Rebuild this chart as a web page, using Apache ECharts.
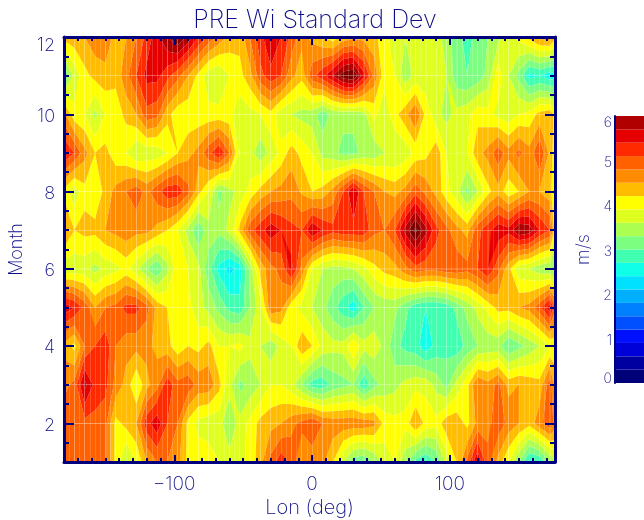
<!DOCTYPE html>
<html>
<head>
<meta charset="utf-8">
<title>PRE Wi Standard Dev</title>
<script src="https://cdn.jsdelivr.net/npm/echarts@6/dist/echarts.min.js"></script>
<style>
  html, body { margin: 0; padding: 0; background: #fff; }
  #chart { width: 644px; height: 520px; }
</style>
</head>
<body>
<div id="chart"></div>
<script>
const lons = [-180,-172.5,-165,-157.5,-150,-142.5,-135,-127.5,-120,-112.5,-105,-97.5,-90,-82.5,-75,-67.5,-60,-52.5,-45,-37.5,-30,-22.5,-15,-7.5,
  0,7.5,15,22.5,30,37.5,45,52.5,60,67.5,75,82.5,90,97.5,105,112.5,120,127.5,135,142.5,150,157.5,165,172.5,176.25]
const months = [1,2,3,4,5,6,7,8,9,10,11,12]

// values, m/s, one row per month
const month1 = [5.0,5.0,5.0,5.0,4.9,4.1,3.5,3.9,4.5,4.8,4.8,4.6,4.1,4.1,4.1,3.9,3.7,3.8,4.0,4.4,4.9,5.3,5.0,4.5,
  4.6,4.6,4.2,3.6,3.1,3.0,3.3,3.7,3.9,3.4,2.9,2.7,3.0,3.7,4.2,4.9,5.7,4.9,4.4,3.9,3.3,2.6,2.7,3.3,3.5]
const month2 = [5.0,5.0,5.0,5.0,4.9,4.1,4.3,4.5,5.3,5.6,5.1,4.8,4.1,3.8,3.7,3.7,3.4,3.7,4.0,4.3,4.4,4.5,4.7,4.9,
  5.1,4.8,4.7,4.7,4.7,4.7,4.6,4.1,4.0,4.0,4.5,4.1,4.0,4.4,4.4,4.1,4.6,4.7,5.0,4.7,4.5,4.3,4.7,5.0,4.7]
const month3 = [4.7,4.9,5.8,5.3,5.2,4.7,4.4,3.9,4.4,4.7,5.3,4.9,5.0,4.7,4.7,4.3,3.7,3.2,3.4,3.6,3.9,3.9,3.7,3.3,
  2.85,2.8,3.1,3.2,3.3,2.75,3.2,3.4,3.5,3.7,3.8,3.8,3.5,3.2,3.7,4.1,4.8,4.6,4.9,4.4,4.5,4.4,4.3,5.0,4.4]
const month4 = [4.4,4.1,4.8,5.1,5.3,4.8,4.6,4.6,4.6,4.4,4.3,4.0,4.2,4.1,4.3,3.9,3.9,4.0,3.7,3.6,3.4,3.7,3.9,4.45,
  4.2,3.8,3.7,3.7,4.2,3.7,3.8,3.5,3.1,2.9,2.8,2.5,2.8,2.9,2.8,3.1,3.3,3.4,3.4,3.0,3.2,3.4,3.6,3.9,4.0]
const month5 = [5.6,5.4,5.0,4.5,4.8,4.9,5.2,5.2,4.9,4.4,4.2,4.0,4.0,3.7,3.5,3.2,2.9,2.8,3.3,3.8,4.7,4.6,4.0,3.8,
  3.6,3.4,3.1,2.8,2.5,3.0,3.3,3.4,3.4,3.1,2.8,2.7,2.7,2.8,3.1,3.4,3.7,4.0,4.3,4.3,4.5,4.6,5.0,5.6,4.9]
const month6 = [3.7,3.7,3.7,3.5,3.7,3.8,4.0,3.7,3.3,3.0,3.5,4.1,3.9,3.7,3.1,2.6,2.3,2.5,3.4,4.3,4.7,4.9,5.5,4.7,
  3.9,3.6,3.5,3.5,3.6,3.8,4.1,4.3,4.4,4.7,5.0,4.9,4.9,5.0,5.0,4.9,5.1,5.4,4.9,4.3,3.7,3.6,3.4,3.3,3.2]
const month7 = [4.6,4.2,4.3,4.3,4.5,4.6,4.7,4.6,4.6,4.4,4.2,3.9,3.5,3.0,3.5,3.4,3.7,4.3,5.0,5.3,5.6,5.4,5.2,5.1,
  5.7,5.4,5.2,5.3,5.3,5.3,4.9,4.8,5.1,5.8,6.4,5.8,5.2,4.9,4.6,4.4,5.0,5.3,5.6,5.5,6.0,5.9,5.4,5.1,4.0]
const month8 = [4.1,3.7,4.1,3.95,4.3,4.6,4.8,5.0,4.7,5.0,5.3,5.3,4.9,4.3,3.9,3.2,3.5,3.7,4.0,4.3,4.5,4.6,4.7,4.45,
  4.2,4.3,4.6,5.1,5.7,5.1,4.8,4.5,4.4,4.6,5.0,4.7,4.4,4.0,3.7,3.2,3.6,4.1,4.4,4.0,4.2,4.5,4.5,4.3,3.9]
const month9 = [5.4,5.1,4.6,4.2,4.3,4.0,3.9,3.6,3.7,3.7,3.9,4.2,4.4,4.6,5.0,5.4,4.8,3.8,3.7,3.4,3.7,4.0,4.35,4.1,
  3.9,3.5,3.4,3.2,3.2,3.4,3.4,3.6,3.6,3.7,4.0,4.1,4.4,3.9,3.8,3.9,4.4,4.6,5.0,4.6,4.9,4.6,5.1,4.4,4.0]
const month10 = [4.6,4.0,3.9,3.5,3.9,4.0,4.3,4.5,5.0,4.9,4.3,4.0,4.0,4.0,4.0,4.0,4.0,3.7,3.8,3.9,4.1,3.7,3.6,3.5,
  3.45,3.1,3.4,3.4,3.4,3.5,4.0,3.7,4.1,4.4,4.8,4.1,3.7,3.5,3.7,3.8,4.1,4.0,3.8,3.7,3.9,4.0,4.3,4.4,4.1]
const month11 = [3.0,3.7,4.1,4.3,4.4,4.3,4.7,5.1,5.5,5.5,5.2,4.9,4.5,4.1,3.7,3.6,3.9,4.1,4.4,5.0,5.3,5.1,4.6,4.3,
  5.0,5.3,5.7,6.2,6.3,5.5,4.7,4.0,3.9,3.4,3.7,3.7,3.7,3.6,3.1,3.0,3.1,3.4,4.1,3.6,3.2,2.6,2.7,2.5,2.6]
const month12 = [4.3,4.4,4.5,4.7,4.7,4.4,4.5,4.8,5.2,5.6,6.0,6.3,5.9,5.4,5.0,4.7,4.4,4.3,4.8,5.3,5.7,5.4,5.0,4.6,
  4.4,4.2,4.0,4.3,4.4,4.4,4.3,4.0,3.7,3.6,3.7,3.7,3.7,3.5,3.1,2.9,3.1,3.3,3.5,3.8,4.0,4.3,4.6,4.7,4.3]
const monthRows = [month1,month2,month3,month4,month5,month6,month7,month8,month9,month10,month11,month12]

const levelStep = 0.3
// colour of each band from 0 upward, last two are above the colour bar
const bandColors = ['#000078','#0000a0','#0000d8','#0010ff','#0050ff','#0080ff','#00b0ff','#00e0ff','#10ffe8','#40ffb0',
  '#7cff80','#acff50','#dfff20','#ffff00','#ffbc00','#ff8c00','#ff6000','#ff2a00','#e60000','#b00000','#800000','#600000']
const barBands = 20

const xMajor = [-100,0,100]
const xMinor = [-170,-160,-150,-140,-130,-120,-110,-90,-80,-70,-60,-50,-40,-30,-20,-10,10,20,30,40,50,60,70,80,90,110,120,130,140,150,160,170]
const yMajor = [2,4,6,8,10,12]
const yMinor = [1.5,2.5,3,3.5,4.5,5,5.5,6.5,7,7.5,8.5,9,9.5,10.5,11,11.5]
const yLabels = [2,4,6,8,10]
const yTopLabel = [12]
const barLabels = [1,2,3,4,5]

// pale lines the plot shows over the colours
const xStripes = []
for (let s = -176.25; s < 176; s += 3.75) xStripes.push(s)
const yStripes = [2,3,4,5,6,7,8,9,10,11]

const navy = '#00007f'
const textBlue = '#0c0c88'
const fontName = 'Inter'
const fontThin = 200

// cut a polygon of {x,y,v} corners to the side of level where keep() holds
function clipLevel (pts, level, keep) {
  let out = []
  for (let i = 0; i < pts.length; i++) {
    let a = pts[i]
    let b = pts[(i + 1) % pts.length]
    let ka = keep(a.v, level)
    let kb = keep(b.v, level)
    if (ka) out.push(a)
    if (ka !== kb) {
      let t = (level - a.v) / (b.v - a.v)
      out.push({x: a.x + (b.x - a.x) * t, y: a.y + (b.y - a.y) * t, v: level})
    }
  }
  return out
}

const cells = []
for (let j = 0; j < months.length - 1; j++) {
  for (let i = 0; i < lons.length - 1; i++) {
    cells.push([i, j])
  }
}

function renderCell (params, api) {
  let i = api.value(0)
  let j = api.value(1)
  let corners = [
    {x: lons[i], y: months[j], v: monthRows[j][i]},
    {x: lons[i + 1], y: months[j], v: monthRows[j][i + 1]},
    {x: lons[i + 1], y: months[j + 1], v: monthRows[j + 1][i + 1]},
    {x: lons[i], y: months[j + 1], v: monthRows[j + 1][i]}
  ]
  let vals = corners.map(c => c.v)
  let minV = Math.min.apply(null, vals)
  let maxV = Math.max.apply(null, vals)
  let children = []
  for (let b = 0; b < bandColors.length; b++) {
    let lo = b * levelStep
    let hi = b === bandColors.length - 1 ? 99 : (b + 1) * levelStep
    if (hi <= minV || lo >= maxV) continue
    let poly = clipLevel(corners, lo, (v, l) => v >= l)
    if (poly.length) poly = clipLevel(poly, hi, (v, l) => v <= l)
    if (poly.length < 3) continue
    children.push({
      type: 'polygon',
      silent: true,
      shape: {points: poly.map(p => api.coord([p.x, p.y]))},
      style: {fill: bandColors[b]}
    })
  }
  return {type: 'group', children: children}
}

function renderBarBand (params, api) {
  let lo = api.coord([0, api.value(0) * levelStep])
  let hi = api.coord([1, (api.value(0) + 1) * levelStep])
  return {
    type: 'rect',
    silent: true,
    shape: {x: lo[0], y: hi[1], width: hi[0] - lo[0], height: lo[1] - hi[1]},
    style: {fill: bandColors[api.value(0)]}
  }
}

// one axis per side for major ticks and labels, one more for the short ticks
function xAxisOf (position, ticks, len, showLine, withLabel) {
  return {
    type: 'value', gridIndex: 0, position: position, min: -180, max: 176.25, z: 5,
    axisLine: {show: showLine, onZero: false, lineStyle: {color: navy, width: 3}},
    axisTick: {show: true, inside: true, length: len, customValues: ticks, lineStyle: {color: navy, width: 2}},
    axisLabel: withLabel ? {
      show: true, customValues: ticks, margin: 13, color: textBlue, fontFamily: fontName, fontWeight: fontThin, fontSize: 19,
      formatter: v => String(v).replace('-', '\u2212')
    } : {show: false},
    splitLine: {show: false}
  }
}

function yAxisOf (position, ticks, len, showLine, labels) {
  return {
    type: 'value', gridIndex: 0, position: position, min: 1, max: 12, z: 5,
    axisLine: {show: showLine, onZero: false, lineStyle: {color: navy, width: 3}},
    axisTick: {show: true, inside: true, length: len, customValues: ticks, lineStyle: {color: navy, width: 2}},
    axisLabel: labels ? {
      show: true, customValues: labels, margin: 9, color: textBlue, fontFamily: fontName, fontWeight: fontThin, fontSize: 18,
      verticalAlign: 'top', padding: [-7, 0, 0, 0]
    } : {show: false},
    splitLine: {show: false}
  }
}

function stripeAxis (base, ticks) {
  base.axisLine = {show: false, onZero: false}
  base.axisTick = {show: false, customValues: ticks}
  base.axisLabel = {show: false, customValues: ticks}
  base.splitLine = {show: true, lineStyle: {color: 'rgba(255,255,255,0.16)', width: 1}}
  base.z = 4
  return base
}

// colour bar axis, the labels at both ends sit inside the bar's height
function barAxis (labels, vAlign, pad) {
  return {
    type: 'value', gridIndex: 1, position: 'left', min: 0, max: 6, z: 5,
    axisLine: {show: false, onZero: false},
    axisTick: {show: false},
    axisLabel: {
      customValues: labels, margin: 3, color: textBlue, fontFamily: fontName, fontWeight: fontThin, fontSize: 14,
      verticalAlign: vAlign, padding: pad
    },
    splitLine: {show: false}
  }
}

const xBottom = xAxisOf('bottom', xMajor, 7, true, true)
xBottom.name = 'Lon (deg)'
xBottom.nameLocation = 'middle'
xBottom.nameGap = 36
xBottom.nameMoveOverlap = false
xBottom.nameTextStyle = {color: textBlue, fontFamily: fontName, fontWeight: fontThin, fontSize: 20}

const yLeft = yAxisOf('left', yMajor, 10, true, yLabels)
yLeft.name = 'Month'
yLeft.nameLocation = 'middle'
yLeft.nameGap = 38
yLeft.nameMoveOverlap = false
yLeft.nameTextStyle = {color: textBlue, fontFamily: fontName, fontWeight: fontThin, fontSize: 18}

const yLeftMinor = yAxisOf('left', yMinor, 5, false, yTopLabel)
yLeftMinor.axisLabel.padding = [0, 0, 0, 0]

const barMain = barAxis(barLabels, 'top', [-5, 0, 0, 0])
barMain.name = 'm/s'
barMain.nameLocation = 'middle'
barMain.nameGap = 22
barMain.nameRotate = 90
barMain.nameMoveOverlap = false
barMain.nameTextStyle = {color: textBlue, fontFamily: fontName, fontWeight: fontThin, fontSize: 18}
barMain.axisLine = {show: true, onZero: false, lineStyle: {color: navy, width: 2}}

const chart = echarts.init(document.getElementById('chart'), null, {renderer: 'canvas'})

chart.setOption({
  animation: false,
  backgroundColor: '#ffffff',
  title: {
    text: 'PRE Wi Standard Dev',
    left: 310, top: 3, textAlign: 'center',
    textStyle: {color: textBlue, fontFamily: fontName, fontWeight: fontThin, fontSize: 25}
  },
  grid: [
    {left: 64, right: 89, top: 37, bottom: 58, outerBoundsMode: 'none'},
    {left: 615, right: 0, top: 116, bottom: 137, outerBoundsMode: 'none'}
  ],
  xAxis: [
    xBottom,
    xAxisOf('bottom', xMinor, 4, false, false),
    xAxisOf('top', xMajor, 8, true, false),
    xAxisOf('top', xMinor, 4, false, false),
    {type: 'value', gridIndex: 1, min: 0, max: 1, axisLine: {show: false}, axisTick: {show: false}, axisLabel: {show: false}, splitLine: {show: false}},
    stripeAxis(xAxisOf('bottom', xStripes, 0, false, false), xStripes)
  ],
  yAxis: [
    yLeft,
    yLeftMinor,
    yAxisOf('right', yMajor, 10, true, null),
    yAxisOf('right', yMinor, 5, false, null),
    barMain,
    stripeAxis(yAxisOf('left', yStripes, 0, false, null), yStripes),
    barAxis([6], 'top', [0, 0, 0, 0]),
    barAxis([0], 'bottom', [0, 0, -3, 0])
  ],
  series: [
    {type: 'custom', xAxisIndex: 0, yAxisIndex: 0, clip: true, data: cells, renderItem: renderCell, encode: {x: 0, y: 1}},
    {
      type: 'custom', xAxisIndex: 4, yAxisIndex: 4,
      data: bandColors.slice(0, barBands).map((c, i) => [i]),
      renderItem: renderBarBand, encode: {y: 0}
    }
  ]
})
</script>
</body>
</html>
